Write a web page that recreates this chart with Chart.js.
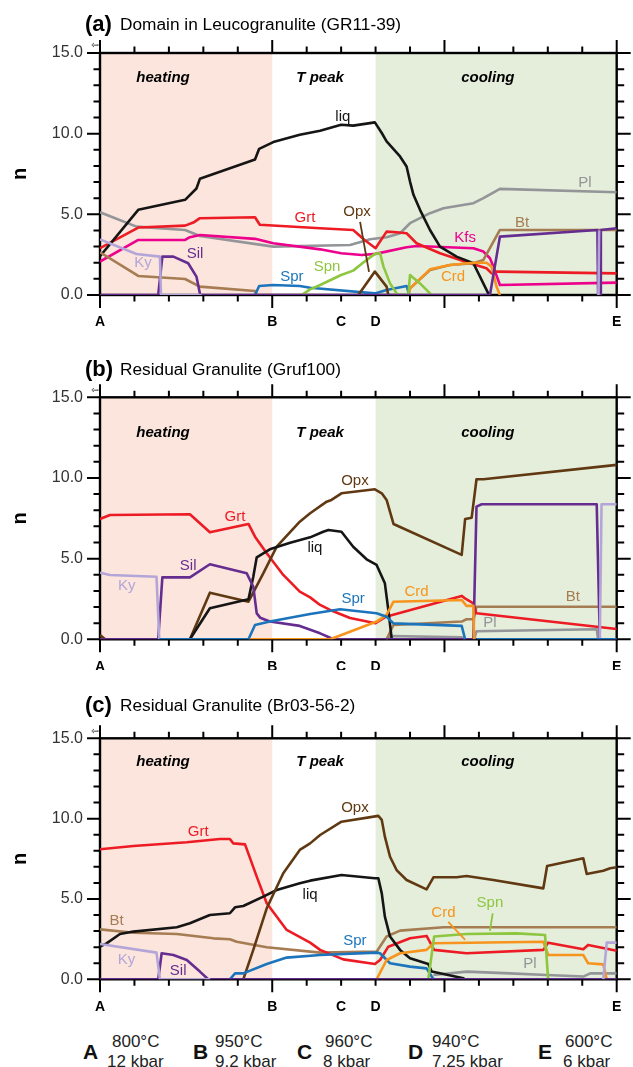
<!DOCTYPE html>
<html>
<head>
<meta charset="utf-8">
<script src="https://cdn.jsdelivr.net/npm/chart.js@4.4.1/dist/chart.umd.min.js"></script>
<style>
  body { margin: 0; background: #fff; width: 633px; height: 1067px; overflow: hidden; position: relative;
         font-family: 'Liberation Sans', Arial, sans-serif; }
  canvas { position: absolute; left: 0; }
  .stop { position: absolute; font-weight: bold; font-size: 21px; line-height: 21px; color: #111; }
  .cond { position: absolute; font-size: 17px; line-height: 17px; color: #222; white-space: nowrap; }
</style>
</head>
<body>
<canvas id="pa" width="633" height="330" style="top:0"></canvas>
<canvas id="pb" width="633" height="340" style="top:330px"></canvas>
<canvas id="pc" width="633" height="345" style="top:670px"></canvas>
<div id="key"></div>
<script>
const FONT = "'Liberation Sans', Arial, sans-serif";
const W = 633, PLOT_LEFT = 100, PLOT_RIGHT = 616.7;

// path positions along the P-T path and their conditions
const stopPos = [0, 5, 7, 8, 15];
const stopNames = ['A', 'B', 'C', 'D', 'E'];
const stopTemps = ['800°C', '950°C', '960°C', '940°C', '600°C'];
const stopPress = ['12 kbar', '9.2 kbar', '8 kbar', '7.25 kbar', '6 kbar'];

const COL = {
  liq: '#151515', Grt: '#ed1c24', Kfs: '#ec008c', Pl: '#939598', Ky: '#b4a5d8', Sil: '#662d91',
  Bt: '#a67c52', Opx: '#603913', Spr: '#1c75bc', Spn: '#8dc63f', Crd: '#f7941d'
};

// (a) leucogranulite domain, GR11-39   [position, n]
const aLiq = [[0,2.4],[1.11,5.28],[2.47,5.9],[2.8,6.6],[2.9,7.2],[4.5,8.4],[4.62,9.06],[5.03,9.48],[5.8,9.93],[6.39,10.18],[7.0,10.55],[7.35,10.5],[7.98,10.7],[8.18,10.04],[8.32,9.52],[8.71,8.59],[8.9,7.97],[9.0,7.03],[9.1,6.21],[9.29,5.28],[9.58,4.03],[9.87,3.0],[10.35,2.38],[10.84,1.97],[11.27,0.1],[11.32,0]];
const aGrt = [[0,2.9],[1.11,4.18],[2.47,4.3],[2.71,4.49],[2.9,4.76],[4.5,4.82],[4.64,4.35],[6.39,4.14],[7.35,4.03],[7.68,3.41],[8.0,2.9],[8.32,3.93],[8.61,3.89],[8.9,3.83],[9.19,3.21],[9.87,2.59],[10.74,1.97],[11.22,1.66],[11.37,1.34],[11.51,1.45],[15,1.34]];
const aKfs = [[0,2.07],[1.11,3.41],[2.47,3.41],[2.61,3.58],[2.9,3.72],[4.5,3.48],[5.03,3.21],[6.39,2.83],[7.0,2.59],[7.6,2.48],[8.0,2.55],[8.9,2.96],[9.19,3.04],[10.84,2.9],[11.13,2.69],[11.32,2.28],[11.42,1.76],[11.61,0.62],[15,0.77]];
const aPl = [[0,5.13],[1.06,4.24],[2.47,4.03],[2.9,3.66],[5.03,3.0],[7.26,3.1],[7.84,3.46],[8.32,3.58],[8.71,3.83],[9.0,4.45],[9.58,5.07],[9.97,5.38],[10.84,5.69],[11.13,6.0],[11.61,6.58],[15,6.37]];
const aKy = [[0,3.45],[1.06,2.54],[1.74,2.38],[1.77,0],[2.95,0],[2.95,null],[14.47,0],[14.49,4.0]];
const aSil = [[0,0],[1.69,0],[1.81,2.38],[2.13,2.38],[2.56,1.97],[2.8,1.14],[2.9,0.1],[2.93,0],[11.32,0],[11.61,3.62],[14.44,4.03],[14.46,0],[14.52,0],[14.54,4.03],[15,4.14]];
const aBt = [[0,2.65],[1.11,1.18],[2.47,0.99],[2.9,0.52],[4.5,0.25],[4.55,0],[8.95,0],[9.0,0.41],[9.58,1.55],[10.16,1.86],[10.84,1.97],[11.13,2.17],[11.37,3.1],[11.61,4.03],[15,4.03]];
const aCrd = [[8.95,0],[9.0,0.41],[9.58,1.59],[10.16,1.86],[10.84,2.0],[11.22,2.0],[11.37,1.76],[11.51,0.52],[11.61,0]];
const aOpx = [[7.5,0],[7.98,1.45],[8.32,0.52],[8.37,0]];
const aSpr = [[4.5,0],[4.62,0.56],[5.03,0.62],[5.8,0.56],[6.1,0.45],[7.98,0.1],[8.32,0.31],[8.9,0.56],[8.98,0]];
const aSpn = [[5.85,0],[6.1,0.35],[6.39,0.62],[7.0,1.24],[7.35,1.51],[7.68,2.07],[7.98,2.55],[8.13,2.59],[8.23,1.76],[8.42,0.72],[8.61,0.1],[8.65,0],[8.95,0],[9.0,1.24],[9.29,0.72],[9.58,0.1],[9.62,0]];

// (b) residual granulite, Gruf100
const bGrt = [[0,7.46],[0.29,7.7],[2.61,7.75],[3.19,6.63],[4.31,7.15],[4.5,6.36],[4.84,5.33],[5.32,3.99],[5.8,2.95],[6.1,2.6],[6.39,2.13],[6.68,1.82],[7.26,1.32],[8.0,1.0],[8.3,1.4],[10.5,2.69],[10.62,2.5],[10.84,2.23],[10.93,1.61],[15,0.64]];
const bKy = [[0,4.13],[0.29,3.99],[1.64,3.88],[1.72,0],[1.72,null],[14.51,0],[14.56,8.37],[15,8.37]];
const bSil = [[0,0],[1.69,0],[1.81,3.84],[2.61,3.84],[3.19,4.65],[4.26,4.09],[4.45,3.26],[4.55,1.61],[4.65,1.34],[4.93,1.1],[5.8,0.83],[6.39,0.37],[6.68,0.1],[6.75,0],[10.84,0],[10.93,8.22],[11.08,8.37],[14.42,8.37],[14.51,0],[15,0]];
const bLiq = [[2.61,0],[3.19,1.92],[4.31,2.48],[4.45,3.88],[4.55,5.08],[4.93,5.58],[5.52,5.99],[6.1,6.32],[6.48,6.67],[6.63,6.78],[7.01,6.67],[7.35,5.74],[7.74,4.96],[8.03,4.61],[8.27,3.47],[8.37,1.82],[8.47,0]];
const bOpx = [[0,0.27],[0.15,0],[0.15,null],[2.61,0],[3.19,2.89],[4.31,2.33],[4.74,4.09],[5.13,5.74],[5.8,7.29],[6.1,7.81],[6.58,8.53],[6.72,8.64],[7.01,9.05],[7.98,9.3],[8.18,9.05],[8.32,8.64],[8.52,7.15],[10.5,5.23],[10.6,7.46],[10.79,7.54],[10.93,9.92],[11.13,9.92],[15,10.81]];
const bSpr = [[1.72,0],[4.31,0],[4.5,0.89],[4.93,1.1],[6.1,1.57],[6.97,1.86],[8.03,1.61],[8.32,1.4],[8.52,0.99],[10.5,0.83],[10.6,0],[10.62,null],[10.93,0],[15,0]];
const bCrd = [[4.31,0],[6.68,0],[7.01,0.27],[8.03,1.1],[8.32,1.51],[8.52,2.33],[10.5,2.44],[10.64,2.07],[10.84,2.07],[10.86,0]];
const bBt = [[8.32,0],[8.52,0.89],[10.5,1.1],[10.64,1.24],[10.84,1.24],[10.93,2.02],[15,2.02]];
const bPl = [[8.3,0],[8.45,0.2],[10.5,0.12],[10.6,0],[10.6,null],[10.86,0],[10.93,0.5],[14.42,0.62],[14.46,0]];

// (c) residual granulite, Br03-56-2
const cGrt = [[0,8.09],[0.97,8.3],[2.52,8.53],[3.48,8.73],[3.77,8.73],[3.87,8.46],[4.21,8.4],[4.55,6.39],[4.84,4.73],[5.42,3.07],[6.1,2.28],[6.39,1.83],[7.06,1.24],[7.98,0.95],[8.13,1.2],[8.37,2.03],[9.0,2.55],[9.48,2.7],[9.7,1.83],[10.64,1.62],[12.87,1.83],[13.01,2.28],[14.03,1.87],[14.17,2.14],[15,1.78]];
const cLiq = [[0,2.03],[0.19,2.24],[0.58,2.82],[0.97,2.97],[2.23,3.24],[2.61,3.49],[3.19,4.0],[3.77,4.11],[3.92,4.48],[4.16,4.56],[4.74,5.15],[5.13,5.56],[5.8,5.98],[6.1,6.14],[7.01,6.49],[7.98,6.29],[8.08,6.29],[8.18,5.35],[8.27,3.9],[8.42,2.66],[8.71,1.83],[9.0,1.31],[9.53,0.95],[9.63,0.48],[10.55,0.06],[10.6,0]];
const cBt = [[0,3.11],[0.97,2.9],[2.23,2.82],[3.29,2.55],[3.77,2.49],[3.97,2.34],[4.84,1.99],[6.39,1.66],[8.03,1.72],[8.32,2.66],[8.71,3.03],[9.97,3.24],[15,3.24]];
const cKy = [[0,2.2],[1.64,1.66],[1.74,0],[3.2,0],[3.2,null],[14.61,0],[14.71,2.28],[15,2.28]];
const cSil = [[0,0],[1.69,0],[1.79,1.62],[2.13,1.51],[2.52,1.2],[2.9,0.48],[3.14,0],[15,0]];
const cOpx = [[4.16,0],[4.45,1.83],[4.84,4.42],[5.32,6.6],[5.8,8.05],[6.1,8.46],[6.39,8.98],[7.01,9.81],[8.08,10.17],[8.18,9.92],[8.27,8.88],[8.42,7.63],[8.61,6.8],[8.9,6.18],[9.48,5.6],[9.68,6.35],[10.35,6.35],[10.64,6.43],[11.42,6.18],[12.87,5.66],[12.98,7.05],[14.03,7.53],[14.13,6.56],[14.61,6.76],[14.81,6.91],[15,6.97]];
const cSpr = [[3.77,0],[3.92,0.37],[4.16,0.37],[4.84,0.95],[5.42,1.35],[6.39,1.51],[8.03,1.66],[8.13,1.62],[8.42,1.0],[9.0,0.79],[9.48,0.68],[9.68,0]];
const cCrd = [[8.03,0],[8.32,1.2],[8.71,1.62],[9.48,1.83],[9.68,2.24],[12.87,2.34],[13.01,1.51],[14.03,1.51],[14.17,1.0],[14.61,0.93],[14.71,0]];
const cSpn = [[9.53,0],[9.7,2.66],[10.64,2.82],[12.1,2.86],[12.92,2.76],[13.01,0]];
const cPl = [[9.68,0.27],[10.64,0.48],[11.9,0.37],[12.96,0.27],[14.03,0.17],[14.23,0.37],[15,0.37]];

// lines listed bottom -> top
const panels = [
  { id: 'pa', height: 330, plotTop: 53, plotBottom: 295, titleBase: 30, tag: '(a)',
    name: 'Domain in Leucogranulite (GR11-39)', stageY: 13.45,
    lines: [['Pl', aPl], ['Kfs', aKfs], ['Grt', aGrt], ['liq', aLiq], ['Bt', aBt], ['Crd', aCrd], ['Spr', aSpr], ['Spn', aSpn], ['Opx', aOpx], ['Sil', aSil], ['Ky', aKy]],
    tags: [['liq', 7.05, 11.04], ['Grt', 5.95, 4.77], ['Opx', 7.46, 5.15], ['Kfs', 10.6, 3.53], ['Bt', 12.25, 4.46], ['Pl', 14.08, 6.94],
           ['Ky', 1.25, 1.98], ['Sil', 2.76, 2.54], ['Spr', 5.57, 1.12], ['Spn', 6.59, 1.74], ['Crd', 10.25, 1.12]],
    leaders: [['Opx', 7.55, 4.53, 7.81, 1.43]] },
  { id: 'pb', height: 340, plotTop: 67.3, plotBottom: 309.3, titleBase: 45, tag: '(b)',
    name: 'Residual Granulite (Gruf100)', stageY: 12.8,
    lines: [['Pl', bPl], ['Bt', bBt], ['Grt', bGrt], ['Opx', bOpx], ['liq', bLiq], ['Sil', bSil], ['Ky', bKy], ['Crd', bCrd], ['Spr', bSpr]],
    tags: [['Grt', 3.92, 7.58], ['Ky', 0.78, 3.32], ['Sil', 2.56, 4.54], ['liq', 6.24, 5.66], ['Opx', 7.4, 9.82], ['Spr', 7.35, 2.52],
           ['Crd', 9.19, 2.95], ['Bt', 13.73, 2.64], ['Pl', 11.32, 1.03]],
    leaders: [] },
  { id: 'pc', height: 345, plotTop: 68.3, plotBottom: 309.3, titleBase: 40.7, tag: '(c)',
    name: 'Residual Granulite (Br03-56-2)', stageY: 13.55,
    lines: [['Pl', cPl], ['Bt', cBt], ['Grt', cGrt], ['liq', cLiq], ['Opx', cOpx], ['Spr', cSpr], ['Crd', cCrd], ['Spn', cSpn], ['Sil', cSil], ['Ky', cKy]],
    tags: [['Grt', 2.85, 9.18], ['Bt', 0.48, 3.65], ['Ky', 0.77, 1.2], ['Sil', 2.27, 0.54], ['liq', 6.1, 5.25], ['Opx', 7.4, 10.64],
           ['Spr', 7.4, 2.4], ['Crd', 9.97, 4.15], ['Spn', 11.32, 4.73], ['Pl', 12.48, 0.95]],
    leaders: [['Crd', 10.11, 3.58, 10.6, 2.45], ['Spn', 11.4, 4.1, 11.32, 3.02]] }
];

const stages = [['heating', 1.83], ['T peak', 6.39], ['cooling', 11.26]];

// shading, frame, ticks, title and line labels
const panelPlugin = {
  id: 'panelDeco',
  beforeDatasetsDraw(chart, args, opts) {
    const { ctx, chartArea: a, scales: { x, y } } = chart;
    ctx.save();
    ctx.fillStyle = '#fbe5dd';
    ctx.fillRect(x.getPixelForValue(0), a.top, x.getPixelForValue(5) - x.getPixelForValue(0), a.bottom - a.top);
    ctx.fillStyle = '#e4eedb';
    ctx.fillRect(x.getPixelForValue(8), a.top, x.getPixelForValue(15) - x.getPixelForValue(8), a.bottom - a.top);

    ctx.fillStyle = '#000';
    ctx.font = `italic bold 15px ${FONT}`;
    ctx.textAlign = 'center';
    ctx.textBaseline = 'middle';
    stages.forEach(([t, v]) => ctx.fillText(t, x.getPixelForValue(v), y.getPixelForValue(opts.p.stageY)));

    // frame and ticks
    ctx.strokeStyle = '#000';
    ctx.lineWidth = 2.4;
    ctx.strokeRect(a.left, a.top, a.right - a.left, a.bottom - a.top);
    ctx.lineWidth = 2;
    ctx.beginPath();
    for (let v = 0; v <= 15; v++) {
      const len = v % 5 === 0 ? 13 : 6.5;
      const px = x.getPixelForValue(v), py = y.getPixelForValue(v);
      ctx.moveTo(px, a.bottom); ctx.lineTo(px, a.bottom + len);
      ctx.moveTo(px, a.top); ctx.lineTo(px, a.top - len);
      ctx.moveTo(a.left, py); ctx.lineTo(a.left - len, py);
      ctx.moveTo(a.right, py); ctx.lineTo(a.right + len + 1, py);
    }
    ctx.stroke();

    ctx.font = `9px 'DejaVu Sans'`;
    ctx.fillText('⇦', a.left - 5, a.top - 7);

    // title
    ctx.textAlign = 'left';
    ctx.textBaseline = 'alphabetic';
    ctx.font = `bold 22px ${FONT}`;
    ctx.fillText(opts.p.tag, 85, opts.p.titleBase + 1);
    ctx.font = `17.3px ${FONT}`;
    ctx.fillText(opts.p.name, 120, opts.p.titleBase);
    ctx.restore();
  },
  afterDatasetsDraw(chart, args, opts) {
    const { ctx, scales: { x, y } } = chart;
    ctx.save();
    ctx.lineWidth = 1.8;
    opts.p.leaders.forEach(([k, x1, y1, x2, y2]) => {
      ctx.strokeStyle = COL[k];
      ctx.beginPath();
      ctx.moveTo(x.getPixelForValue(x1), y.getPixelForValue(y1));
      ctx.lineTo(x.getPixelForValue(x2), y.getPixelForValue(y2));
      ctx.stroke();
    });
    ctx.font = `15px ${FONT}`;
    ctx.textAlign = 'center';
    ctx.textBaseline = 'middle';
    opts.p.tags.forEach(([k, vx, vy]) => {
      ctx.fillStyle = COL[k];
      ctx.fillText(k, x.getPixelForValue(vx), y.getPixelForValue(vy));
    });
    ctx.restore();
  }
};

panels.forEach(p => {
  const datasets = p.lines.slice().reverse().map(([k, data]) => ({
    label: k, data, borderColor: COL[k], borderWidth: 2.6, pointRadius: 0, fill: false, spanGaps: false
  }));
  new Chart(document.getElementById(p.id), {
    type: 'line',
    data: { datasets },
    options: {
      responsive: false,
      animation: false,
      layout: { padding: { top: p.plotTop, right: W - PLOT_RIGHT, left: 0, bottom: 0 } },
      elements: { line: { tension: 0, borderJoinStyle: 'round' } },
      plugins: { legend: { display: false }, tooltip: { enabled: false }, panelDeco: { p } },
      scales: {
        x: {
          type: 'linear', min: 0, max: 15,
          afterFit: s => { s.height = p.height - p.plotBottom; },
          // tick marks are drawn by the plugin; tickLength only offsets the labels
          grid: { display: false, drawTicks: true, tickLength: 19 }, border: { display: false },
          ticks: {
            stepSize: 1, autoSkip: false, maxRotation: 0, padding: 0, color: '#000',
            font: { family: FONT, size: 14, weight: 'bold' },
            callback: v => { const i = stopPos.indexOf(v); return i < 0 ? '' : stopNames[i]; }
          }
        },
        y: {
          min: 0, max: 15,
          afterFit: s => { s.width = PLOT_LEFT; },
          grid: { display: false, drawTicks: true, tickLength: 17 }, border: { display: false },
          title: { display: true, text: 'n', color: '#000', font: { family: FONT, size: 20, weight: 'bold' }, padding: { top: 8 } },
          ticks: {
            stepSize: 1, autoSkip: false, padding: 0, color: '#333',
            font: { family: FONT, size: 16 },
            callback: v => v % 5 === 0 ? v.toFixed(1) : ''
          }
        }
      }
    },
    plugins: [panelPlugin]
  });
});

// P-T conditions of the path points
const key = document.getElementById('key');
const letterLeft = [83, 193, 297, 408, 538];
const tempLeft = [112, 215, 325, 432, 565];
const pressLeft = [107, 215, 323, 432, 563];
stopNames.forEach((s, i) => {
  key.insertAdjacentHTML('beforeend',
    `<div class="stop" style="left:${letterLeft[i]}px;top:1041px">${s}</div>` +
    `<div class="cond" style="left:${tempLeft[i]}px;top:1033px">${stopTemps[i]}</div>` +
    `<div class="cond" style="left:${pressLeft[i]}px;top:1053px">${stopPress[i]}</div>`);
});
</script>
</body>
</html>
